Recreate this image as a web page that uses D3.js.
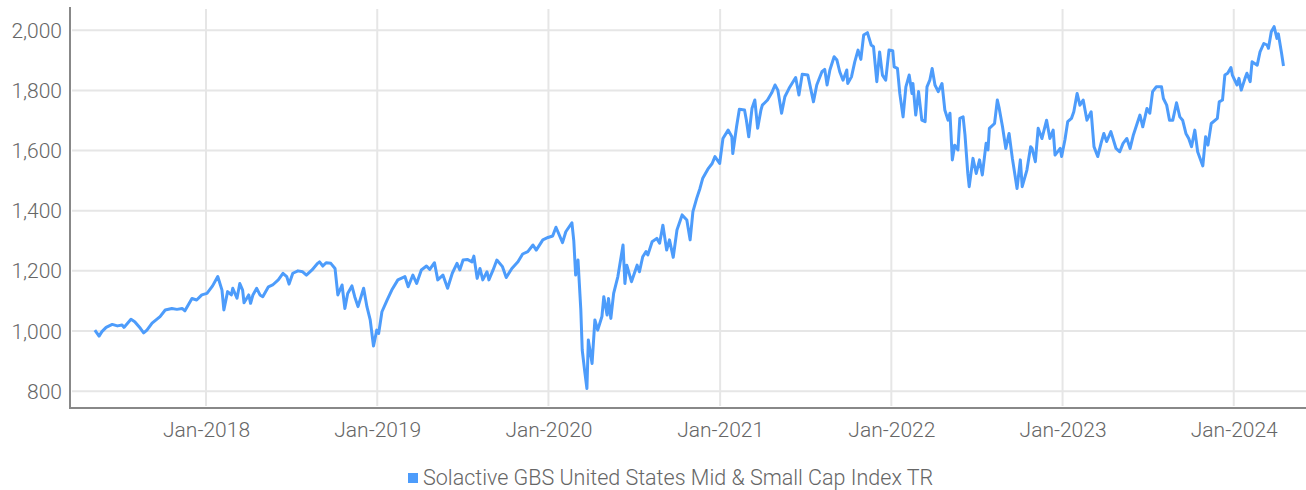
<!DOCTYPE html>
<html>
<head>
	<meta charset="utf-8">
	<title>Solactive GBS United States Mid & Small Cap Index TR</title>
	<script src="https://d3js.org/d3.v7.min.js"></script>
	<style>
		body { margin: 0; background: #fff; }
		text { font-family: Roboto, sans-serif; font-weight: 300; fill: #666; }
	</style>
</head>
<body>
	<div class="chart"></div>

	<script type="text/javascript">

		var seriesName = 'Solactive GBS United States Mid & Small Cap Index TR'

		var dates = [
			'2017-05-09','2017-05-18','2017-05-24','2017-06-02','2017-06-15','2017-06-26','2017-07-06','2017-07-10','2017-07-25','2017-08-02','2017-08-14','2017-08-21','2017-08-28','2017-09-08','2017-09-25','2017-10-06','2017-10-20','2017-10-31','2017-11-11','2017-11-17','2017-12-02','2017-12-12','2017-12-23',
			'2018-01-03','2018-01-15','2018-01-26','2018-02-04','2018-02-08','2018-02-16','2018-02-24','2018-02-27','2018-03-08','2018-03-14','2018-03-20','2018-03-23','2018-04-02','2018-04-06','2018-04-11','2018-04-19','2018-04-26','2018-05-02','2018-05-14','2018-05-23','2018-06-04','2018-06-14','2018-06-22','2018-06-27','2018-07-05','2018-07-16','2018-07-26','2018-08-03','2018-08-15','2018-08-27','2018-08-31','2018-09-07','2018-09-14','2018-09-24','2018-10-03','2018-10-09','2018-10-18','2018-10-24','2018-10-30','2018-11-08','2018-11-14','2018-11-21','2018-12-03','2018-12-10','2018-12-17','2018-12-24','2018-12-31',
			'2019-01-04','2019-01-11','2019-01-22','2019-02-01','2019-02-14','2019-03-01','2019-03-08','2019-03-18','2019-03-26','2019-04-05','2019-04-16','2019-04-23','2019-05-03','2019-05-10','2019-05-21','2019-05-31','2019-06-10','2019-06-20','2019-06-26','2019-07-03','2019-07-12','2019-07-22','2019-07-26','2019-08-02','2019-08-08','2019-08-14','2019-08-23','2019-08-27','2019-09-05','2019-09-13','2019-09-25','2019-10-03','2019-10-15','2019-10-28','2019-11-07','2019-11-18','2019-11-29','2019-12-06','2019-12-20','2019-12-31',
			'2020-01-10','2020-01-17','2020-01-31','2020-02-07','2020-02-20','2020-02-24','2020-02-28','2020-03-04','2020-03-10','2020-03-13','2020-03-18','2020-03-23','2020-03-26','2020-04-03','2020-04-09','2020-04-15','2020-04-24','2020-04-28','2020-05-05','2020-05-08','2020-05-13','2020-05-19','2020-05-28','2020-06-08','2020-06-12','2020-06-16','2020-06-26','2020-07-08','2020-07-13','2020-07-20','2020-07-27','2020-07-31','2020-08-09','2020-08-19','2020-08-25','2020-09-01','2020-09-09','2020-09-15','2020-09-23','2020-10-01','2020-10-12','2020-10-22','2020-10-29','2020-11-04','2020-11-12','2020-11-19','2020-11-25','2020-12-07','2020-12-15','2020-12-21','2020-12-31',
			'2021-01-07','2021-01-18','2021-01-26','2021-01-28','2021-02-05','2021-02-11','2021-02-22','2021-02-26','2021-03-03','2021-03-10','2021-03-16','2021-03-22','2021-03-29','2021-04-01','2021-04-12','2021-04-21','2021-04-28','2021-05-04','2021-05-12','2021-05-19','2021-05-28','2021-06-11','2021-06-18','2021-06-25','2021-07-07','2021-07-19','2021-07-26','2021-08-06','2021-08-12','2021-08-17','2021-08-23','2021-09-01','2021-09-07','2021-09-13','2021-09-20','2021-09-28','2021-09-30','2021-10-08','2021-10-15','2021-10-22','2021-10-28','2021-11-03','2021-11-11','2021-11-19','2021-11-24','2021-12-01','2021-12-07','2021-12-13','2021-12-20','2021-12-27',
			'2022-01-04','2022-01-07','2022-01-14','2022-01-19','2022-01-26','2022-02-01','2022-02-08','2022-02-14','2022-02-16','2022-02-22','2022-02-28','2022-03-07','2022-03-14','2022-03-18','2022-03-24','2022-03-29','2022-04-04','2022-04-11','2022-04-19','2022-04-25','2022-05-02','2022-05-06','2022-05-11','2022-05-16','2022-05-23','2022-05-27','2022-06-03','2022-06-07','2022-06-13','2022-06-16','2022-06-24','2022-07-01','2022-07-08','2022-07-14','2022-07-22','2022-07-26','2022-07-29','2022-08-09','2022-08-15','2022-08-19','2022-08-26','2022-09-02','2022-09-09','2022-09-16','2022-09-26','2022-10-03','2022-10-07','2022-10-17','2022-10-25','2022-10-28','2022-11-04','2022-11-10','2022-11-18','2022-11-28','2022-12-05','2022-12-12','2022-12-16','2022-12-27','2022-12-30',
			'2023-01-06','2023-01-12','2023-01-20','2023-01-25','2023-02-01','2023-02-07','2023-02-14','2023-02-22','2023-03-03','2023-03-09','2023-03-17','2023-03-24','2023-03-30','2023-04-05','2023-04-14','2023-04-25','2023-05-03','2023-05-10','2023-05-18','2023-05-25','2023-06-01','2023-06-09','2023-06-15','2023-06-21','2023-06-30','2023-07-06','2023-07-12','2023-07-20','2023-07-31','2023-08-04','2023-08-11','2023-08-17','2023-08-24','2023-09-01','2023-09-08','2023-09-14','2023-09-21','2023-09-27','2023-10-03','2023-10-10','2023-10-16','2023-10-27','2023-11-02','2023-11-07','2023-11-14','2023-11-27','2023-12-01','2023-12-08','2023-12-13','2023-12-19','2023-12-26','2023-12-29',
			'2024-01-08','2024-01-12','2024-01-17','2024-01-25','2024-01-29','2024-02-05','2024-02-09','2024-02-20','2024-02-26','2024-03-05','2024-03-12','2024-03-15','2024-03-21','2024-03-27','2024-04-02','2024-04-05','2024-04-12','2024-04-16'
		]

		var values = [
			1003, 983, 998, 1012, 1022, 1017, 1020, 1012, 1039, 1031, 1009, 994, 1003, 1026, 1048, 1070, 1075, 1072, 1075, 1067, 1108, 1103, 1120,
			1125, 1150, 1181, 1136, 1070, 1131, 1120, 1142, 1109, 1158, 1136, 1094, 1120, 1092, 1120, 1142, 1120, 1114, 1147, 1153, 1170, 1192, 1181, 1156, 1192, 1200, 1197, 1186, 1203, 1225, 1230, 1216, 1227, 1225, 1208, 1120, 1153, 1075, 1125, 1150, 1114, 1081, 1142, 1081, 1037, 950, 1003,
			992, 1064, 1103, 1136, 1170, 1181, 1147, 1186, 1158, 1203, 1216, 1205, 1227, 1170, 1186, 1142, 1192, 1225, 1203, 1236, 1238, 1230, 1249, 1175, 1208, 1170, 1197, 1170, 1203, 1236, 1214, 1178, 1208, 1230, 1256, 1264, 1286, 1269, 1303, 1311,
			1316, 1345, 1294, 1330, 1360, 1300, 1186, 1236, 1070, 937, 870, 809, 970, 892, 1037, 1003, 1048, 1114, 1053, 1108, 1042, 1125, 1181, 1286, 1158, 1219, 1164, 1219, 1197, 1247, 1264, 1253, 1297, 1308, 1292, 1352, 1269, 1303, 1245, 1336, 1386, 1369, 1303, 1397, 1441, 1474, 1508, 1541, 1557, 1580, 1557,
			1640, 1668, 1646, 1590, 1679, 1737, 1735, 1701, 1646, 1741, 1768, 1674, 1735, 1751, 1768, 1792, 1818, 1801, 1724, 1779, 1807, 1843, 1785, 1854, 1851, 1762, 1818, 1862, 1870, 1818, 1868, 1912, 1901, 1862, 1834, 1868, 1823, 1845, 1895, 1934, 1903, 1984, 1992, 1951, 1945, 1829, 1928, 1851, 1834, 1934,
			1932, 1878, 1873, 1790, 1712, 1812, 1851, 1790, 1823, 1718, 1796, 1701, 1696, 1812, 1834, 1873, 1818, 1796, 1823, 1735, 1701, 1724, 1569, 1618, 1602, 1707, 1712, 1652, 1524, 1480, 1574, 1524, 1569, 1519, 1624, 1602, 1674, 1690, 1768, 1740, 1679, 1607, 1657, 1574, 1474, 1569, 1480, 1535, 1613, 1607, 1563, 1674, 1640, 1701, 1640, 1668, 1585, 1607, 1580,
			1635, 1696, 1707, 1729, 1790, 1751, 1768, 1701, 1729, 1613, 1580, 1624, 1657, 1630, 1663, 1607, 1596, 1624, 1640, 1607, 1652, 1690, 1718, 1679, 1740, 1724, 1796, 1812, 1812, 1773, 1751, 1701, 1701, 1759, 1712, 1701, 1657, 1640, 1613, 1668, 1596, 1549, 1646, 1618, 1690, 1707, 1762, 1768, 1851, 1857, 1876, 1851,
			1818, 1840, 1801, 1840, 1857, 1829, 1895, 1884, 1928, 1956, 1951, 1940, 1995, 2012, 1973, 1988, 1923, 1881
		]

		var xTickDates = ['2018-01-01', '2019-01-01', '2020-01-01', '2021-01-01', '2022-01-01', '2023-01-01', '2024-01-01']
		var xTickLabels = ['Jan-2018', 'Jan-2019', 'Jan-2020', 'Jan-2021', 'Jan-2022', 'Jan-2023', 'Jan-2024']
		var yTicks = [800, 1000, 1200, 1400, 1600, 1800, 2000]

		var width = 1306
		var height = 490
		var lineColor = '#4d9cfb'

		var parseDate = d3.timeParse('%Y-%m-%d')
		var data = dates.map((d, i) => ({ date: parseDate(d), value: values[i] }))

		var svg = d3
			.select('.chart')
			.append('svg')
			.attr('width', width)
			.attr('height', height)

		// scales
		var x = d3
			.scaleTime()
			.domain([parseDate('2017-03-17'), parseDate('2024-06-03')])
			.range([70, 1306])

		var y = d3.scaleLinear().domain([744, 2074]).range([408, 8])

		// grid
		svg.append('g')
			.selectAll('line')
			.data(yTicks)
			.enter()
			.append('line')
			.attr('x1', 72)
			.attr('x2', width)
			.attr('y1', (d) => y(d))
			.attr('y2', (d) => y(d))
			.attr('stroke', '#e6e6e6')
			.attr('stroke-width', 2)

		svg.append('g')
			.selectAll('line')
			.data(xTickDates)
			.enter()
			.append('line')
			.attr('x1', (d) => x(parseDate(d)))
			.attr('x2', (d) => x(parseDate(d)))
			.attr('y1', 9)
			.attr('y2', 406)
			.attr('stroke', '#e6e6e6')
			.attr('stroke-width', 2)

		// axes
		var yAxis = svg.append('g')
			.attr('transform', 'translate(70,0)')
			.call(d3.axisLeft(y).tickValues(yTicks).tickSize(0).tickPadding(8).tickFormat(d3.format(',')))
		yAxis.select('.domain').attr('stroke', '#888').attr('stroke-width', 2).attr('d', 'M0,7V409')
		yAxis.selectAll('text').style('font-size', '21px').attr('dy', '0.34em')

		var xAxis = svg.append('g')
			.attr('transform', 'translate(0,408)')
			.call(d3.axisBottom(x)
				.tickValues(xTickDates.map(parseDate))
				.tickSize(0)
				.tickPadding(14)
				.tickFormat((d, i) => xTickLabels[i]))
		xAxis.select('.domain').attr('stroke', '#888').attr('stroke-width', 2).attr('d', 'M69,0H' + width)
		xAxis.selectAll('text').style('font-size', '21px')

		// line
		var line = d3
			.line()
			.x((d) => x(d.date))
			.y((d) => y(d.value))

		svg.append('path')
			.datum(data)
			.attr('fill', 'none')
			.attr('stroke', lineColor)
			.attr('stroke-width', 3)
			.attr('stroke-linejoin', 'round')
			.attr('d', line)

		// legend
		var legend = svg.append('g').attr('transform', 'translate(408,473)')
		legend.append('rect').attr('width', 10).attr('height', 10).attr('fill', lineColor)
		legend.append('text')
			.attr('x', 15)
			.attr('y', 12)
			.style('font-size', '21.5px')
			.text(seriesName)

	</script>
</body>
</html>
